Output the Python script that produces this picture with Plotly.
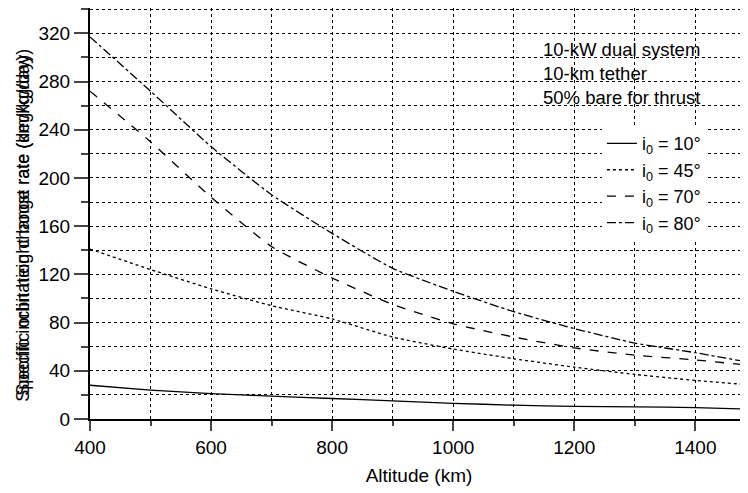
import plotly.graph_objects as go

altitude = [400, 500, 600, 700, 800, 900, 1000, 1100, 1200, 1300, 1400, 1500]
rate_10 = [28, 24, 21, 19, 17, 15, 13, 11.5, 10.5, 10, 9.5, 8]
rate_45 = [141, 124, 108, 94, 83, 68, 58, 50, 43, 37, 32, 28]
rate_70 = [272, 230, 184, 143, 117, 95, 79, 68, 59, 53, 49, 44]
rate_80 = [317, 272, 226, 186, 154, 125, 106, 89, 75, 63, 55, 46]

names = ["i<sub>0</sub> = 10°", "i<sub>0</sub> = 45°", "i<sub>0</sub> = 70°", "i<sub>0</sub> = 80°"]
dashes = ["solid", "dot", "dash", "dashdot"]

note = "10-kW dual system<br>10-km tether<br>50% bare for thrust"
ytitles = ["Specific orbit height boost rate (km/kg/day)", "Specific inclination change rate (deg/kg/day)"]

font = "Liberation Sans, Arial, sans-serif"

fig = go.Figure()
for ys, nm, ds in zip([rate_10, rate_45, rate_70, rate_80], names, dashes):
    fig.add_trace(go.Scatter(x=altitude, y=ys, mode="lines", name=nm,
                             line=dict(color="black", width=1.3, dash=ds, shape="spline", smoothing=0.5)))

# white patches behind the note and legend (hide the grid)
fig.add_shape(type="rect", xref="paper", yref="paper", x0=0.669, x1=0.985, y0=0.752, y1=0.942,
              fillcolor="white", line_width=0, layer="between")
fig.add_shape(type="rect", xref="paper", yref="paper", x0=0.772, x1=0.965, y0=0.46, y1=0.70,
              fillcolor="white", line_width=0, layer="between")

fig.add_annotation(text=note, xref="paper", yref="paper", x=0.686, y=0.93, xanchor="left", yanchor="top",
                   showarrow=False, align="left", font=dict(size=18.5, color="black", family=font))

# y title is two overlapping labels in the source
for t in ytitles:
    fig.add_annotation(text=t, xref="paper", yref="paper", x=-0.12, y=0.47, textangle=-90,
                       showarrow=False, font=dict(size=18, color="black", family=font))

grid = dict(showgrid=True, gridcolor="black", gridwidth=1.3, griddash="dot")

# the page adds an 8px body margin, so margins are shifted to compensate
fig.update_layout(
    width=748, height=493,
    margin=dict(l=82, r=8, t=0, b=82),
    plot_bgcolor="white", paper_bgcolor="white",
    font=dict(family=font, size=19, color="black"),
    showlegend=True,
    legend=dict(x=0.778, y=0.715, xanchor="left", yanchor="top", bgcolor="white",
                font=dict(size=18), tracegroupgap=0, itemwidth=30),
    xaxis=dict(range=[400, 1487], dtick=200, tick0=400, ticks="outside", ticklen=10, tickwidth=2,
               showline=True, linecolor="black", linewidth=2, zeroline=False, automargin=False,
               title=dict(text="Altitude (km)", font=dict(size=19), standoff=12),
               minor=dict(dtick=100, ticks="outside", ticklen=5, tickwidth=2, **grid), **grid),
    yaxis=dict(range=[0, 341], dtick=40, ticks="outside", ticklen=14, tickwidth=2,
               showline=True, linecolor="black", linewidth=2, zeroline=False, automargin=False,
               minor=dict(dtick=20, ticks="outside", ticklen=7, tickwidth=2, **grid), **grid),
)

fig.write_html("out.html")
